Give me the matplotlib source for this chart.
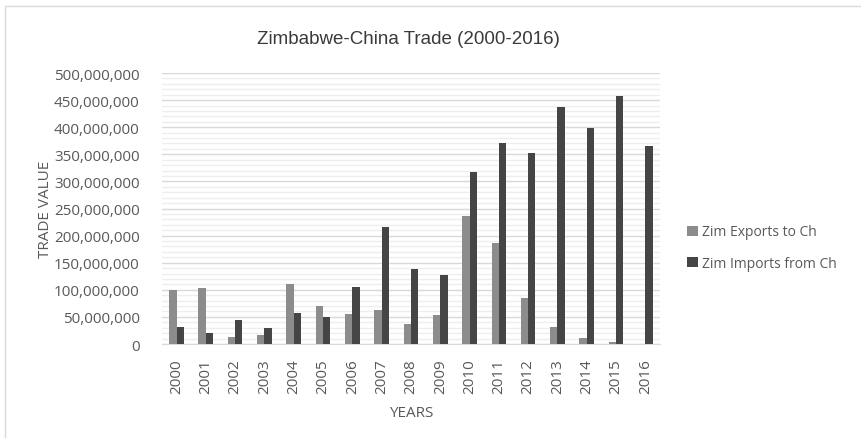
import matplotlib.pyplot as plt
import matplotlib.patches as patches
import numpy as np
from matplotlib.ticker import MultipleLocator, FuncFormatter

plt.rcParams['font.family'] = ['Open Sans', 'DejaVu Sans']

years = [str(y) for y in range(2000, 2017)]
exports = [99e6, 104e6, 13.5e6, 16.5e6, 110e6, 70e6, 55e6, 63e6, 37e6, 54e6,
           237e6, 186e6, 85e6, 31e6, 12e6, 4e6, 0.5e6]
imports = [32e6, 20e6, 45e6, 30e6, 58e6, 50e6, 105e6, 215e6, 138e6, 128e6,
           318e6, 371e6, 353e6, 438e6, 398e6, 457e6, 365e6]

text_col = '#595959'

fig = plt.figure(figsize=(8.61, 4.39), dpi=100)
ax = fig.add_axes([0.188, 0.2141, 0.5786, 0.6173])

# chart border (only top/left visible in the crop)
fig.patches.append(patches.Rectangle((5 / 861, -0.1), 1.2, 1 - 7 / 439 + 0.1,
                                     transform=fig.transFigure, fill=False,
                                     edgecolor='#d9d9d9', linewidth=1))

x = np.arange(len(years))
w = 0.25
ax.bar(x - w / 2, exports, w, color='#8c8c8c', label='Zim Exports to Ch', zorder=3)
ax.bar(x + w / 2, imports, w, color='#454545', label='Zim Imports from Ch', zorder=3)

ax.set_xlim(-0.5, len(years) - 0.5)
ax.set_ylim(0, 500e6)
ax.yaxis.set_major_locator(MultipleLocator(50e6))
ax.yaxis.set_minor_locator(MultipleLocator(10e6))
ax.yaxis.set_major_formatter(FuncFormatter(lambda v, p: f'{int(v):,}'))
ax.grid(axis='y', which='major', color='#d9d9d9', linewidth=1, zorder=0)
ax.grid(axis='y', which='minor', color='#eeeeee', linewidth=1, zorder=0)

ax.set_xticks(x)
ax.set_xticklabels(years, rotation=90)
ax.tick_params(axis='both', which='both', length=0, colors=text_col, labelsize=11)
ax.tick_params(axis='x', pad=10)
ax.tick_params(axis='y', pad=16)

for s in ['top', 'right', 'left']:
    ax.spines[s].set_visible(False)
ax.spines['bottom'].set_color('#d9d9d9')

ax.set_ylabel('TRADE VALUE', color=text_col, fontsize=11)
ax.yaxis.set_label_coords(-0.218, 0.5)
ax.set_xlabel('YEARS', color=text_col, fontsize=11)
ax.xaxis.set_label_coords(0.5, -0.225)

fig.text(408 / 861, 1 - 40 / 439, 'Zimbabwe-China Trade (2000-2016)',
         ha='center', va='center', fontsize=13.5, color='#3a3a3a',
         family=['Liberation Sans', 'DejaVu Sans'])

ax.legend(loc='center left', bbox_to_anchor=(1.03, 0.355), frameon=False,
          fontsize=10, labelcolor=text_col, handlelength=0.75, handleheight=0.75,
          labelspacing=1.2, handletextpad=0.3)

fig.savefig('out.png', dpi=100)
